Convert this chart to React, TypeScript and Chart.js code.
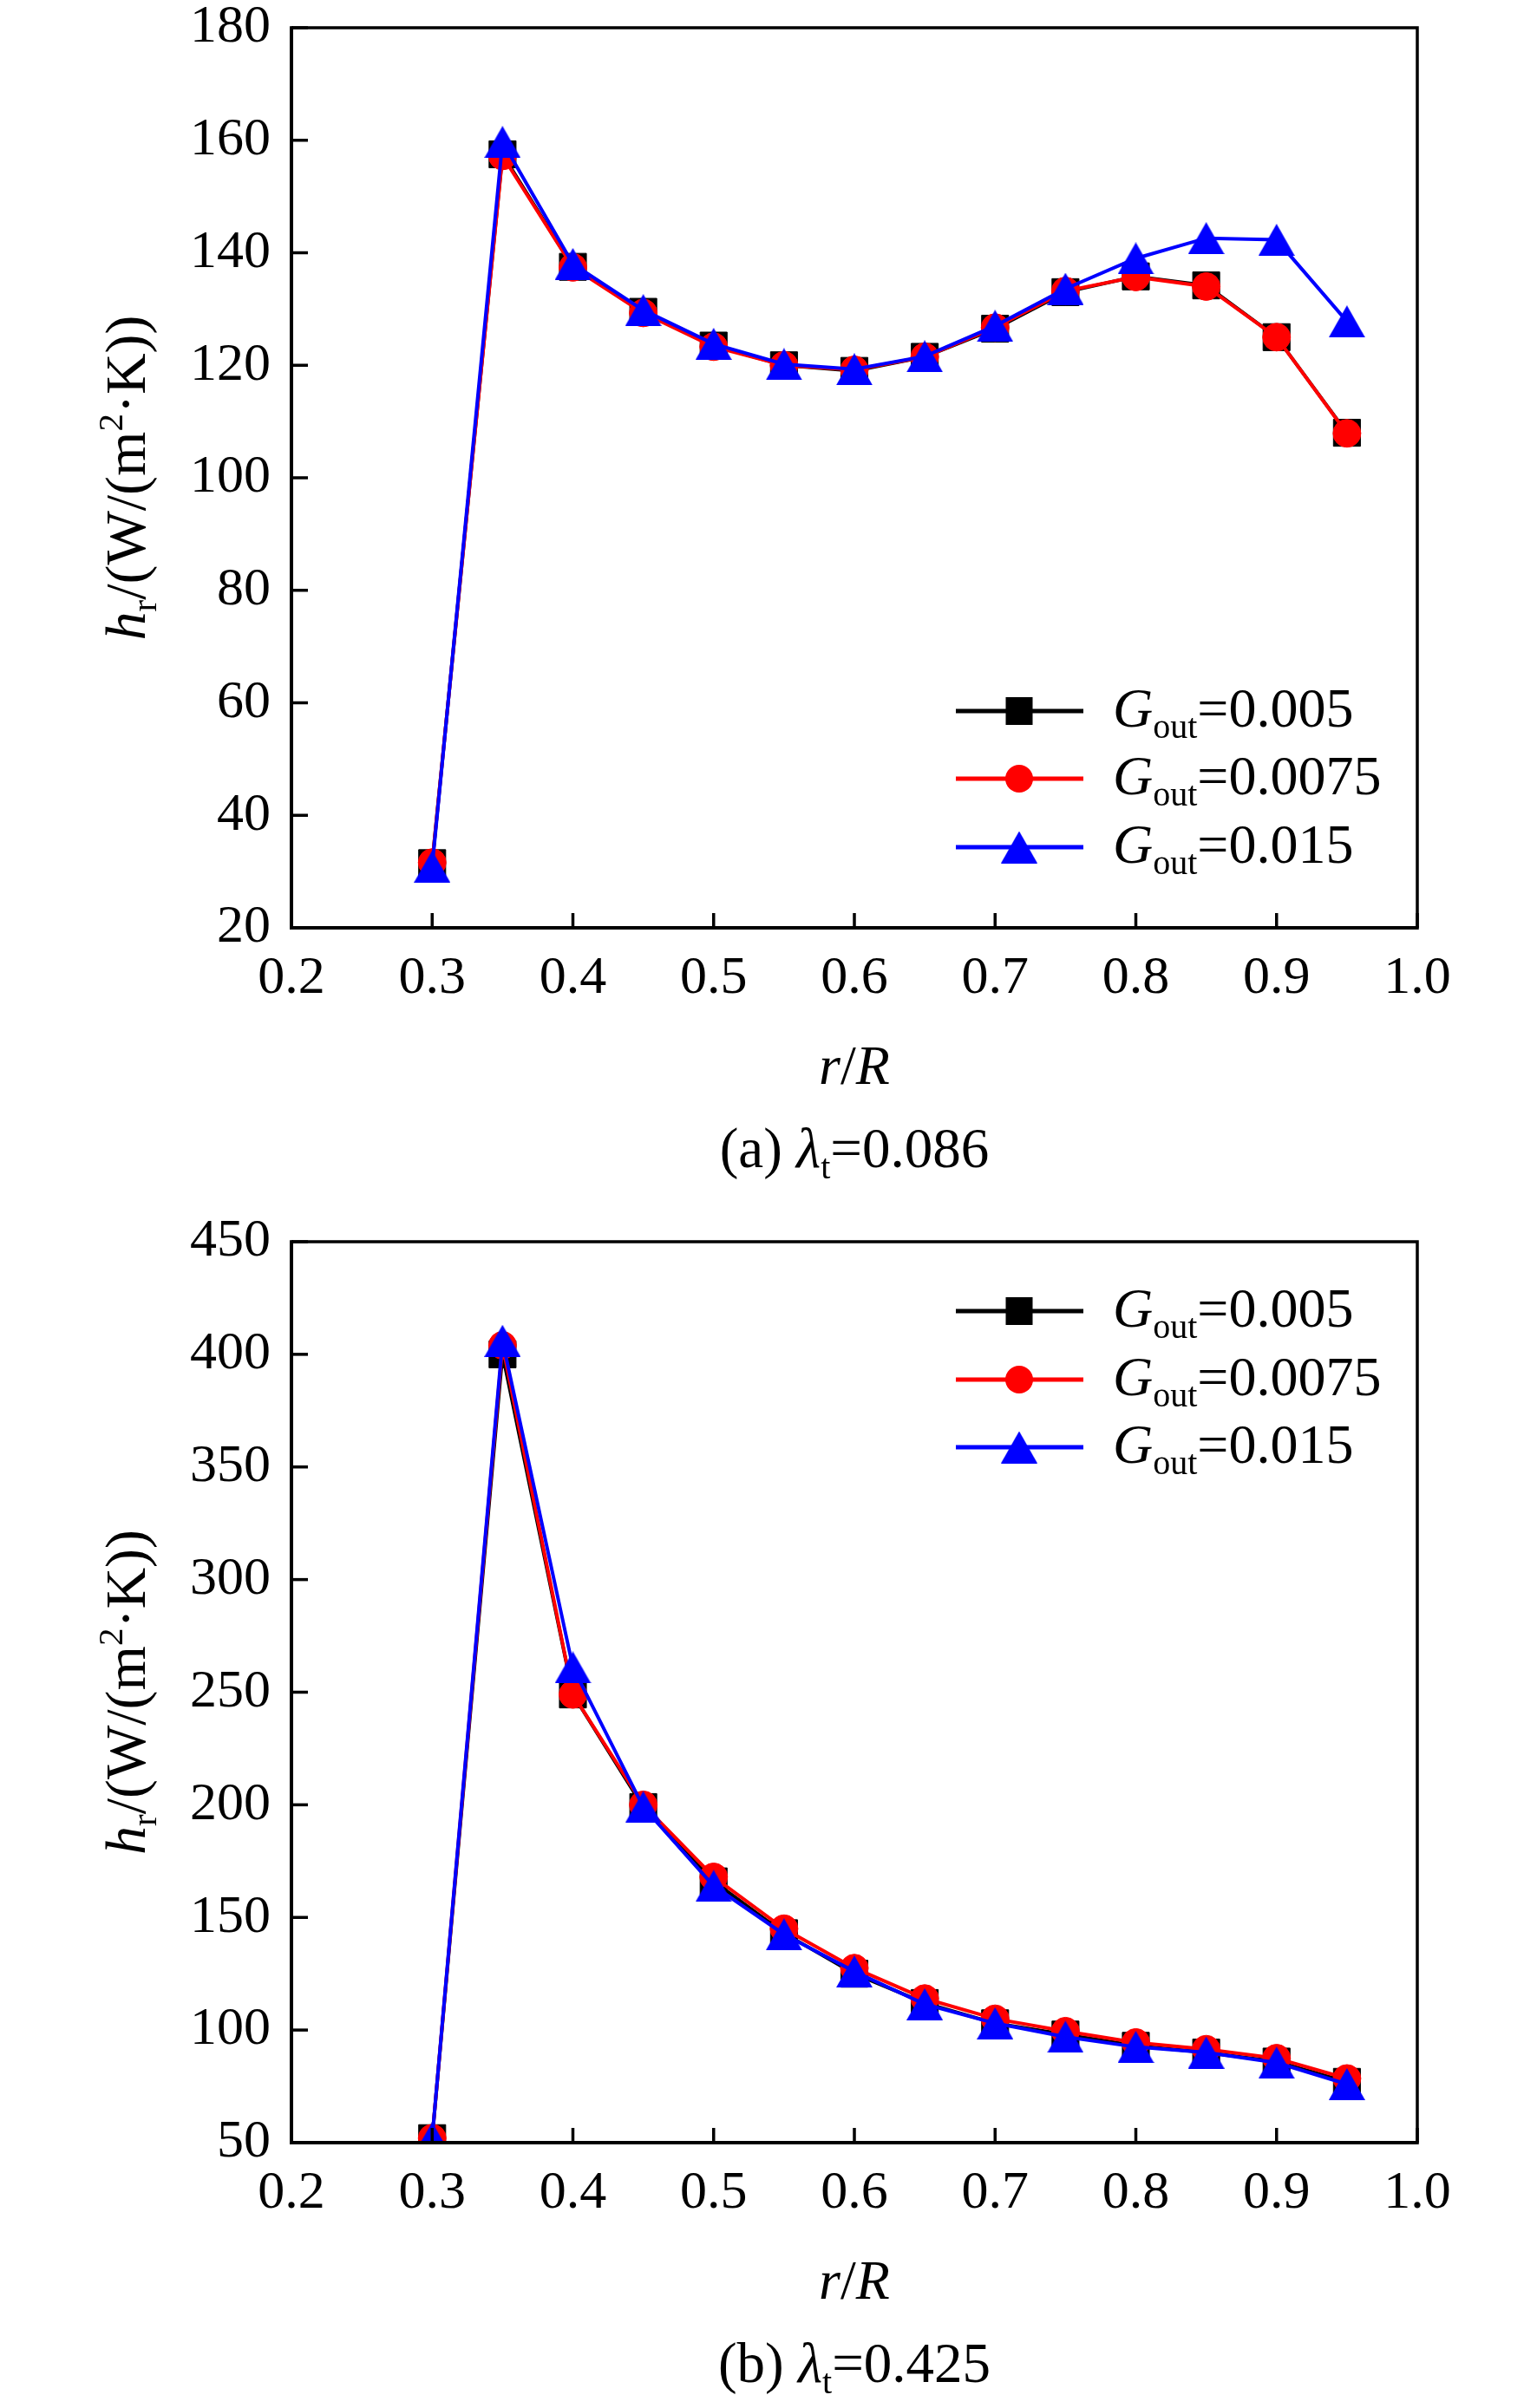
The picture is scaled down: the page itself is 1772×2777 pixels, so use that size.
import React, { useEffect, useRef } from 'react';
import { Chart, registerables } from 'chart.js';

Chart.register(...registerables);

// ---------- data ----------
const rOverR = [0.30, 0.35, 0.40, 0.45, 0.50, 0.55, 0.60, 0.65, 0.70, 0.75, 0.80, 0.85, 0.90, 0.95];

// (a) lambda_t = 0.086
const hrA_G0005 = [31.5, 157.5, 137.5, 129.5, 123.5, 120.0, 119.0, 121.5, 126.5, 133.0, 135.8, 134.2, 125.0, 108.0];
const hrA_G00075 = [31.6, 157.2, 137.4, 129.3, 123.3, 120.0, 119.2, 121.5, 126.7, 133.2, 135.7, 134.0, 125.0, 107.9];
const hrA_G0015 = [30.9, 159.7, 138.0, 129.8, 123.8, 120.2, 119.3, 121.6, 127.0, 133.6, 139.0, 142.6, 142.3, 127.8];

// (b) lambda_t = 0.425
const hrB_G0005 = [52, 400, 249, 199, 166, 143, 125, 112, 103, 98, 93, 90, 86, 77];
const hrB_G00075 = [52, 404, 249, 200, 168, 145, 127.5, 114, 105, 99.5, 94.5, 91.5, 87.5, 78.5];
const hrB_G0015 = [52, 406, 261, 199, 164, 142.5, 126, 111.5, 103, 97, 92.5, 90, 85.5, 76];

const legendValues = ['0.005', '0.0075', '0.015'];
const captionA = { letter: '(a) ', value: '=0.086' };
const captionB = { letter: '(b) ', value: '=0.425' };

const xMin = 0.2;
const xMax = 1.0;
const xStep = 0.1;
const yRangeA = { min: 20, max: 180, step: 20 };
const yRangeB = { min: 50, max: 450, step: 50 };

// ---------- styling ----------
const SERIF = '"Liberation Serif", "Times New Roman", serif';
const W = 1772;
const COLORS = ['#000000', '#ff0000', '#0000ff'];

type Seg = { t: string; italic?: boolean; scale?: number; dy?: number };

function segFont(size: number, s: Seg) {
  return `${s.italic ? 'italic ' : ''}${Math.round(size * (s.scale ?? 1))}px ${SERIF}`;
}

function drawRich(ctx: CanvasRenderingContext2D, segs: Seg[], x: number, y: number, size: number, align: 'left' | 'center') {
  const widths = segs.map((s) => {
    ctx.font = segFont(size, s);
    return ctx.measureText(s.t).width;
  });
  const total = widths.reduce((a, b) => a + b, 0);
  let cx = align === 'center' ? x - total / 2 : x;
  ctx.textAlign = 'left';
  ctx.textBaseline = 'alphabetic';
  ctx.fillStyle = '#000';
  segs.forEach((s, i) => {
    ctx.font = segFont(size, s);
    ctx.fillText(s.t, cx, y + (s.dy ?? 0) * size);
    cx += widths[i];
  });
}

function makeTriangle(color: string, w: number, h: number) {
  const c = document.createElement('canvas');
  c.width = w;
  c.height = h;
  const g = c.getContext('2d')!;
  g.fillStyle = color;
  g.beginPath();
  g.moveTo(w / 2, 0);
  g.lineTo(w, h);
  g.lineTo(0, h);
  g.closePath();
  g.fill();
  return c;
}

type PanelProps = {
  height: number;
  top: number;
  bottom: number;
  yRange: { min: number; max: number; step: number };
  series: number[][];
  legendRows: number[]; // offsets from plot top
  caption: { letter: string; value: string };
};

function Panel({ height, top, bottom, yRange, series, legendRows, caption }: PanelProps) {
  const ref = useRef<HTMLCanvasElement | null>(null);

  useEffect(() => {
    const canvas = ref.current;
    if (!canvas) return;
    const tri = makeTriangle(COLORS[2], 42, 37);
    const pointStyles: any[] = ['rect', 'circle', tri];
    const radii = [22, 16, 21];

    const decor = {
      id: 'decor',
      afterDraw(chart: any) {
        const { ctx, chartArea } = chart;
        const { left, right, top: t, bottom: b } = chartArea;
        ctx.save();
        ctx.strokeStyle = '#000';
        ctx.lineCap = 'butt';
        // frame
        ctx.lineWidth = 3.5;
        ctx.beginPath();
        ctx.moveTo(left, t);
        ctx.lineTo(right, t);
        ctx.lineTo(right, b);
        ctx.stroke();
        ctx.lineWidth = 4;
        ctx.beginPath();
        ctx.moveTo(left, t - 1.75);
        ctx.lineTo(left, b);
        ctx.lineTo(right + 1.75, b);
        ctx.stroke();
        // inward ticks
        ctx.lineWidth = 3.5;
        const xs = chart.scales.x;
        xs.ticks.forEach((tk: any) => {
          const px = xs.getPixelForValue(tk.value);
          ctx.beginPath();
          ctx.moveTo(px, b);
          ctx.lineTo(px, b - 17);
          ctx.stroke();
        });
        const ys = chart.scales.y;
        ys.ticks.forEach((tk: any) => {
          const py = ys.getPixelForValue(tk.value);
          ctx.beginPath();
          ctx.moveTo(left, py);
          ctx.lineTo(left + 19, py);
          ctx.stroke();
        });

        // legend
        legendRows.forEach((off, i) => {
          const y = t + off;
          ctx.strokeStyle = COLORS[i];
          ctx.lineWidth = 5;
          ctx.beginPath();
          ctx.moveTo(1102, y);
          ctx.lineTo(1249, y);
          ctx.stroke();
          ctx.fillStyle = COLORS[i];
          const mx = 1175;
          if (i === 0) {
            ctx.fillRect(mx - 15.5, y - 16, 31, 32);
          } else if (i === 1) {
            ctx.beginPath();
            ctx.arc(mx, y, 16, 0, Math.PI * 2);
            ctx.fill();
          } else {
            ctx.drawImage(tri, mx - tri.width / 2, y - tri.height / 2);
          }
          drawRich(
            ctx,
            [
              { t: 'G', italic: true },
              { t: 'out', scale: 0.62, dy: 0.2 },
              { t: '=' + legendValues[i] },
            ],
            1283,
            y + 18,
            64,
            'left'
          );
        });

        // axis titles
        const cx = (left + right) / 2;
        drawRich(ctx, [{ t: 'r', italic: true }, { t: '/' }, { t: 'R', italic: true }], cx, b + 180, 64, 'center');
        drawRich(
          ctx,
          [{ t: caption.letter }, { t: 'λ', italic: true }, { t: 't', scale: 0.62, dy: 0.2 }, { t: caption.value }],
          cx,
          b + 276,
          65,
          'center'
        );
        ctx.save();
        ctx.translate(167, (t + b) / 2);
        ctx.rotate(-Math.PI / 2);
        drawRich(
          ctx,
          [
            { t: 'h', italic: true },
            { t: 'r', scale: 0.62, dy: 0.2 },
            { t: '/(W/(m' },
            { t: '2', scale: 0.62, dy: -0.4 },
            { t: '·K))' },
          ],
          0,
          0,
          66,
          'center'
        );
        ctx.restore();
        ctx.restore();
      },
    };

    const datasets = series.map((vals, i) => ({
      label: 'G_out=' + legendValues[i],
      data: rOverR.map((x, k) => ({ x, y: vals[k] })),
      borderColor: COLORS[i],
      backgroundColor: COLORS[i],
      borderWidth: 4,
      pointStyle: pointStyles[i],
      pointRadius: radii[i],
      pointBackgroundColor: COLORS[i],
      pointBorderColor: COLORS[i],
      pointBorderWidth: 1,
      tension: 0,
      fill: false,
      order: 3 - i,
    }));

    const chart = new Chart(canvas, {
      type: 'line',
      data: { datasets },
      options: {
        responsive: false,
        animation: false,
        devicePixelRatio: 1,
        layout: { padding: { left: 0, top, right: W - 1634, bottom: 0 } },
        plugins: { legend: { display: false }, tooltip: { enabled: false }, title: { display: false } },
        scales: {
          x: {
            type: 'linear',
            min: xMin,
            max: xMax,
            ticks: {
              stepSize: xStep,
              autoSkip: false,
              maxRotation: 0,
              color: '#000',
              padding: 22,
              font: { family: SERIF, size: 62 },
              callback: (v: any) => Number(v).toFixed(1),
            },
            grid: { display: false, drawTicks: false },
            border: { display: false },
            afterFit: (s: any) => {
              s.height = height - bottom;
              s.paddingLeft = 0;
              s.paddingRight = 0;
            },
          },
          y: {
            type: 'linear',
            min: yRange.min,
            max: yRange.max,
            ticks: {
              stepSize: yRange.step,
              color: '#000',
              padding: 24,
              font: { family: SERIF, size: 62 },
            },
            grid: { display: false, drawTicks: false },
            border: { display: false },
            afterFit: (s: any) => {
              s.width = 336;
              s.paddingTop = 0;
              s.paddingBottom = 0;
            },
          },
        },
      } as any,
      plugins: [decor],
    });
    return () => chart.destroy();
  }, []);

  return <canvas ref={ref} width={W} height={height} style={{ display: 'block', width: W, height }} />;
}

export default function App() {
  return (
    <div style={{ position: 'absolute', left: 0, top: 0, width: W, height: 2777, background: '#fff' }}>
      <Panel
        height={1400}
        top={32}
        bottom={1070}
        yRange={yRangeA}
        series={[hrA_G0005, hrA_G00075, hrA_G0015]}
        legendRows={[788, 866, 945]}
        caption={captionA}
      />
      <Panel
        height={1377}
        top={32}
        bottom={1071}
        yRange={yRangeB}
        series={[hrB_G0005, hrB_G00075, hrB_G0015]}
        legendRows={[80, 159, 237]}
        caption={captionB}
      />
    </div>
  );
}
